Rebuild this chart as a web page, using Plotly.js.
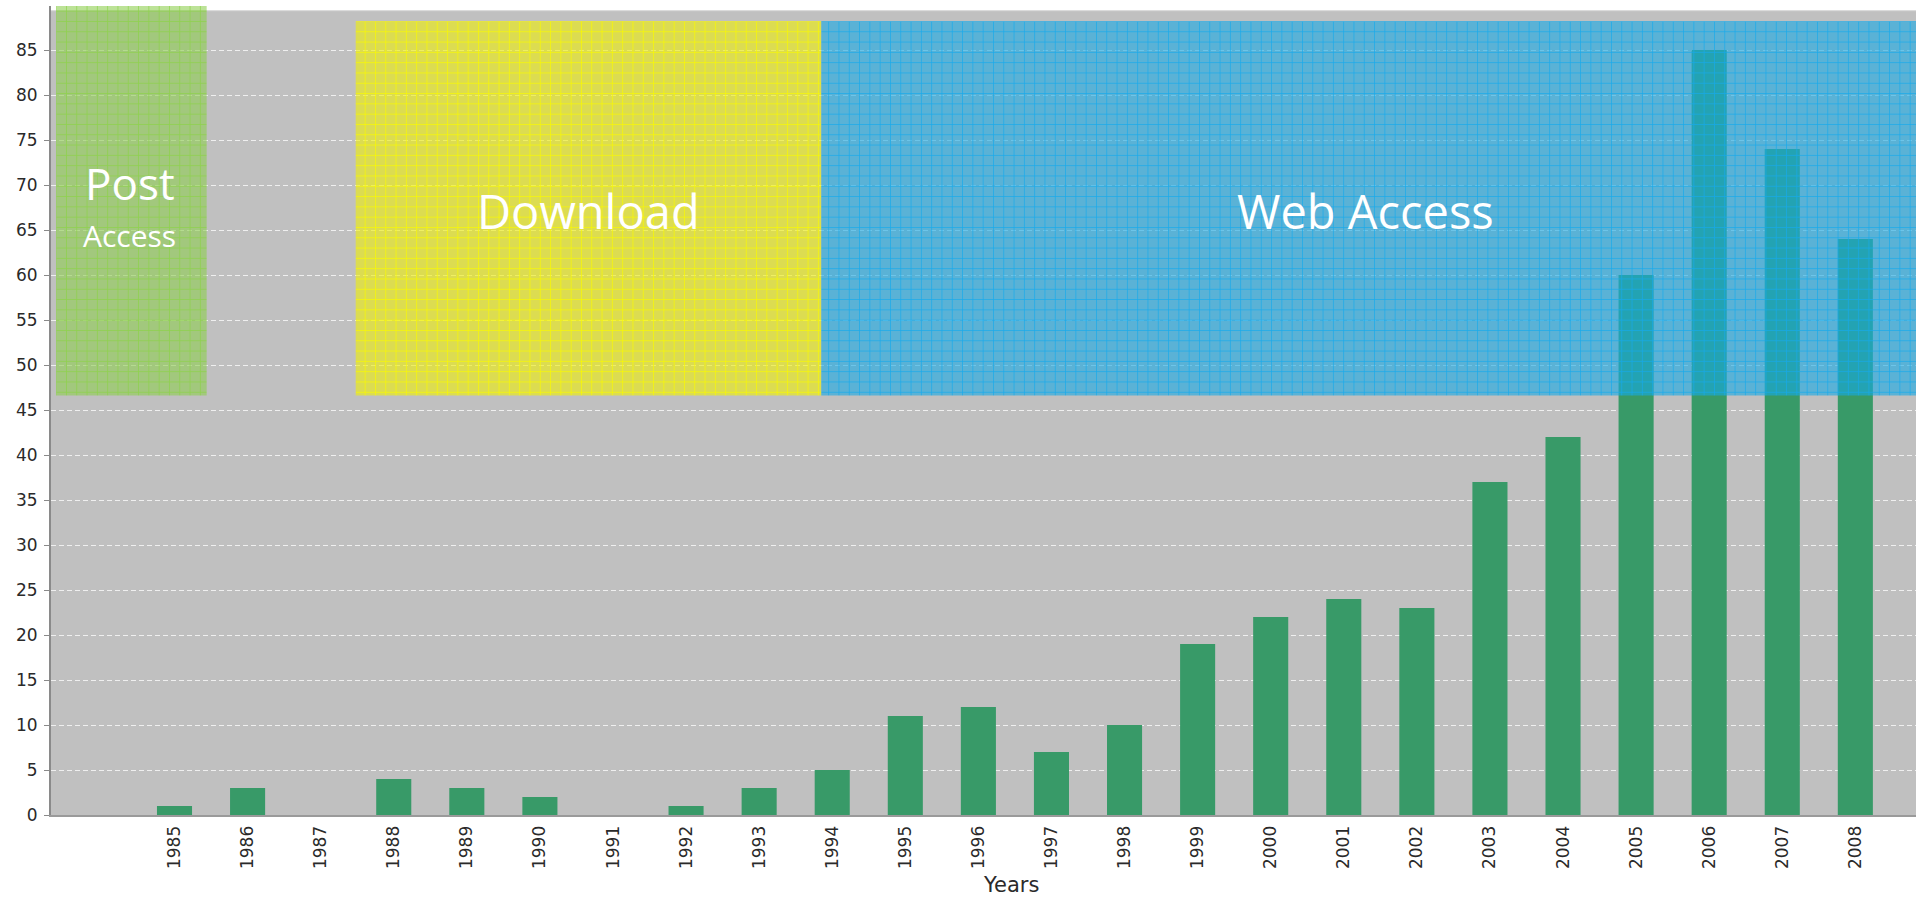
<!DOCTYPE html>
<html>
<head>
<meta charset="utf-8">
<script src="https://cdn.plot.ly/plotly-3.0.1.min.js"></script>
<style>
  html, body { margin: 0; padding: 0; background: #ffffff; }
  #chart { width: 1921px; height: 897px; }
</style>
</head>
<body>
<div id="chart"></div>
<script>
// ---- data ----
const years  = [1985, 1986, 1987, 1988, 1989, 1990, 1991, 1992, 1993, 1994, 1995, 1996,
                1997, 1998, 1999, 2000, 2001, 2002, 2003, 2004, 2005, 2006, 2007, 2008];
const counts = [1, 3, 0, 4, 3, 2, 0, 1, 3, 5, 11, 12,
                7, 10, 19, 22, 24, 23, 37, 42, 60, 85, 74, 64];
const yTicks = [0, 5, 10, 15, 20, 25, 30, 35, 40, 45, 50, 55, 60, 65, 70, 75, 80, 85];
const xTitle = 'Years';

// access phases (spans in year units / count units)
const phaseNames = ['Post Access', 'Download', 'Web Access'];
const phaseStart = [1983.38, 1987.48, 1993.85];
const phaseEnd   = [1985.44, 1993.85, 2008.83];
const phaseLow   = [46.6, 46.6, 46.6];
const phaseHigh  = [89.9, 88.2, 88.2];

// ---- styles ----
const phaseBase = ['rgba(140,205,75,0.58)', 'rgba(240,240,0,0.58)', 'rgba(22,168,228,0.6)'];
const phaseLine = ['rgba(140,210,70,0.9)', 'rgba(250,250,0,0.92)', 'rgba(20,170,235,0.9)'];

const barTrace = {
  type: 'bar',
  x: years,
  y: counts,
  width: 0.48,
  marker: { color: '#389a68', line: { width: 0 } },
  hoverinfo: 'skip',
  showlegend: false
};

const phaseTraces = phaseNames.map((name, i) => ({
  type: 'scatter',
  mode: 'none',
  name: name,
  x: [phaseStart[i], phaseEnd[i], phaseEnd[i], phaseStart[i], phaseStart[i]],
  y: [phaseLow[i], phaseLow[i], phaseHigh[i], phaseHigh[i], phaseLow[i]],
  fill: 'toself',
  fillcolor: phaseBase[i],
  fillpattern: {
    shape: '+',
    size: 10.3,
    solidity: 0.14,
    fgcolor: phaseLine[i],
    bgcolor: phaseBase[i],
    fillmode: 'replace'
  },
  hoverinfo: 'skip',
  showlegend: false
}));

const labelFont = { family: 'Open Sans, DejaVu Sans, sans-serif', color: '#ffffff' };
const tickFontFamily = 'DejaVu Sans, sans-serif';

const layout = {
  width: 1921,
  height: 897,
  margin: { l: 51, r: 5, t: 6, b: 82, pad: 0 },
  paper_bgcolor: '#ffffff',
  plot_bgcolor: 'rgba(0,0,0,0)',
  showlegend: false,
  hovermode: false,
  font: { family: tickFontFamily, size: 16, color: '#333333' },
  xaxis: {
    type: 'linear',
    range: [1983.31, 2008.83],
    tickmode: 'array',
    tickvals: years,
    ticktext: years.map(String),
    tickangle: -90,
    ticks: '',
    ticklabelstandoff: 2,
    showgrid: false,
    zeroline: false,
    showline: true,
    linecolor: '#9a9a9a',
    linewidth: 2,
    tickfont: { family: tickFontFamily, size: 17, color: '#2a2a2a' }
  },
  yaxis: {
    range: [0, 89.89],
    tickmode: 'array',
    tickvals: yTicks,
    ticks: 'outside',
    ticklen: 5,
    tickwidth: 1,
    tickcolor: '#8a8a8a',
    ticklabelstandoff: 3,
    showgrid: true,
    gridcolor: 'rgba(255,255,255,0.75)',
    gridwidth: 1,
    griddash: '5px,3px',
    zeroline: false,
    showline: true,
    linecolor: '#8a8a8a',
    linewidth: 2,
    tickfont: { family: tickFontFamily, size: 17, color: '#2a2a2a' }
  },
  shapes: [
    {
      type: 'rect', layer: 'below',
      xref: 'paper', x0: 0, x1: 1,
      yref: 'y', y0: 0, y1: 89.37,
      fillcolor: '#c0c0c0',
      line: { width: 0 }
    },
    {
      type: 'line', layer: 'below',
      xref: 'paper', x0: 0, x1: 1,
      yref: 'y', y0: 89.37, y1: 89.37,
      line: { color: '#d6d6d6', width: 1 }
    }
  ],
  annotations: [
    { x: 1984.39, y: 70.17, xref: 'x', yref: 'y', text: 'Post', showarrow: false,
      font: Object.assign({ size: 44 }, labelFont) },
    { x: 1984.39, y: 64.44, xref: 'x', yref: 'y', text: 'Access', showarrow: false,
      font: Object.assign({ size: 30 }, labelFont) },
    { x: 1990.67, y: 67.1, xref: 'x', yref: 'y', text: 'Download', showarrow: false,
      font: Object.assign({ size: 47 }, labelFont) },
    { x: 2001.30, y: 67.1, xref: 'x', yref: 'y', text: 'Web Access', showarrow: false,
      font: Object.assign({ size: 47 }, labelFont) },
    { x: 0.515, y: -0.0865, xref: 'paper', yref: 'paper', text: xTitle, showarrow: false,
      xanchor: 'center', yanchor: 'middle',
      font: { family: tickFontFamily, size: 21, color: '#2a2a2a' } }
  ]
};

Plotly.newPlot('chart', [barTrace].concat(phaseTraces), layout, { displayModeBar: false, staticPlot: true });
</script>
</body>
</html>
